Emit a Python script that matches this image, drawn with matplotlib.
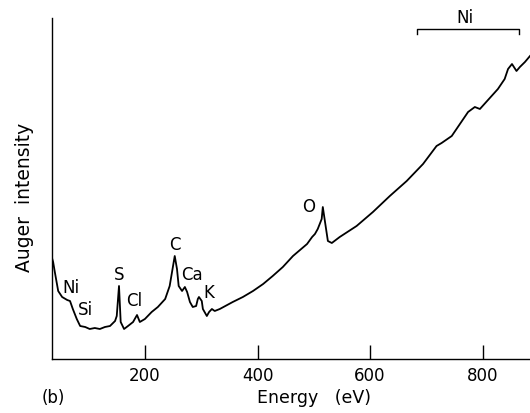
import numpy as np
import matplotlib
matplotlib.use('Agg')
import matplotlib.pyplot as plt

# spectrum (energy in eV, intensity in arbitrary units)
energy = [35, 37, 40, 46, 53, 62, 67, 72, 79, 85, 94, 102, 111, 120, 129, 138,
          147, 150, 154, 157, 163, 170, 179, 186, 191, 200, 212, 223, 236, 244,
          250, 253, 257, 260, 266, 271, 275, 280, 285, 291, 294, 296, 301, 303,
          310, 314, 319, 324, 333, 356, 374, 392, 410, 427, 445, 463, 488, 497,
          502, 507, 514, 516, 521, 525, 532, 546, 576, 605, 635, 665, 694, 718,
          727, 745, 774, 786, 795, 827, 839, 845, 852, 860, 866, 875, 884]
intensity = [101, 97, 87, 68, 62, 59, 58, 50, 40, 33, 32, 30, 31, 30, 32, 33,
             38, 43, 73, 37, 30, 33, 37, 44, 37, 40, 47, 52, 60, 73,
             93, 103, 90, 73, 68, 72, 67, 57, 52, 53, 60, 62, 58, 50,
             43, 47, 50, 48, 50, 57, 62, 68, 75, 83, 92, 103, 115, 122,
             125, 130, 140, 152, 133, 118, 116, 122, 133, 147, 163, 178, 195, 213,
             216, 223, 247, 252, 250, 270, 280, 290, 295, 288, 292, 297, 303]

# peak labels
peak_names = ['Ni', 'Si', 'S', 'Cl', 'C', 'Ca', 'K', 'O']
peak_x = [69, 95, 154, 181, 253, 283, 314, 491]
peak_y = [72, 50, 85, 59, 115, 85, 67, 153]

xticks = [200, 400, 600, 800]
ni_range = [683, 865]

fig = plt.figure(figsize=(5.3, 4.14), dpi=100)
ax = fig.add_axes([52 / 530, 1 - 360 / 414, 1 - 52 / 530, (360 - 19) / 414])

ax.plot(energy, intensity, color='black', lw=1.3)
ax.set_xlim(35, 884)
ax.set_ylim(0, 341)

for s in ['top', 'right']:
    ax.spines[s].set_visible(False)
for s in ['left', 'bottom']:
    ax.spines[s].set_linewidth(1.0)

ax.set_xticks(xticks)
ax.set_yticks([])
ax.tick_params(axis='x', direction='in', length=10, width=1.0, pad=5, labelsize=12)

for name, x, y in zip(peak_names, peak_x, peak_y):
    ax.text(x, y, name, ha='center', va='center', fontsize=12)

# Ni bracket at top right
ax.plot([ni_range[0], ni_range[0], ni_range[1], ni_range[1]], [325, 330, 330, 325],
        color='black', lw=1.0, clip_on=False)
ax.text(np.mean(ni_range) - 6, 342, 'Ni', ha='center', va='center', fontsize=12, clip_on=False)

fig.text(25 / 530, 1 - 197 / 414, 'Auger  intensity', rotation=90,
         ha='center', va='center', fontsize=13.5)
fig.text(314 / 530, 1 - 398 / 414, 'Energy   (eV)', ha='center', va='center', fontsize=12.5)
fig.text(53 / 530, 1 - 398 / 414, '(b)', ha='center', va='center', fontsize=12)

fig.savefig('out.png', dpi=100)
